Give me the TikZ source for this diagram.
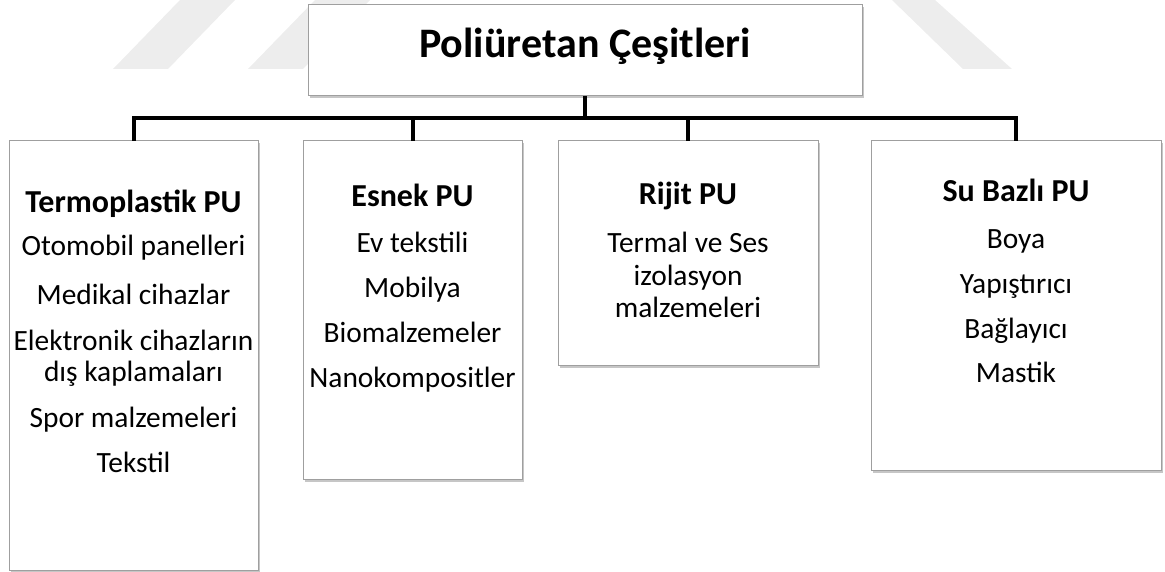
\documentclass[tikz,border=0pt]{standalone}
\usepackage{fontspec}
\setmainfont{Carlito}
\usetikzlibrary{shadows}
\begin{document}
\begin{tikzpicture}[x=1pt,y=-1pt,
  box/.style={draw=gray!75, line width=1pt, fill=white, inner sep=0pt, outer sep=0pt,
    drop shadow={shadow xshift=2pt,shadow yshift=-2.5pt,fill=gray,opacity=.45}},
  link/.style={line width=4pt, line join=miter},
  ttl/.style={anchor=base, inner sep=0pt, font=\fontsize{42}{46}\selectfont\bfseries},
  hdr/.style={anchor=base, inner sep=0pt, font=\fontsize{32}{36}\selectfont\bfseries},
  itm/.style={anchor=base, inner sep=0pt, font=\fontsize{29.4}{32}\selectfont},
  wm/.style={fill=black!7, draw=none}]
\useasboundingbox (0,0) rectangle (1165,572);
% faint watermark bands
\fill[wm] (113,69) -- (180,0) -- (235,0) -- (168,69) -- cycle;
\fill[wm] (248,69) -- (315,0) -- (370,0) -- (303,69) -- cycle;
\fill[wm] (892,0) -- (935,0) -- (1012,69) -- (963,69) -- cycle;
% boxes
\node[box, minimum width=554pt, minimum height=91pt] (title) at (585,50.5) {};
\node[box, minimum width=249pt, minimum height=429pt] (b1) at (133.5,355.5) {};
\node[box, minimum width=219pt, minimum height=338pt] (b2) at (412.5,310) {};
\node[box, minimum width=260pt, minimum height=224pt] (b3) at (688,253) {};
\node[box, minimum width=290pt, minimum height=329pt] (b4) at (1016,305.5) {};
% connectors
\coordinate (j) at (585,118);
\draw[link] (title.south) -- (j);
\draw[link] (b1.north) -- (b1.north |- j) -- (b4.north |- j) -- (b4.north);
\draw[link] (b2.north) -- (b2.north |- j);
\draw[link] (b3.north) -- (b3.north |- j);
% texts
\node[ttl] (tt) at (585,58) {Poliüretan Çeşitleri};
\node[hdr] (h1) at (133.5,213) {Termoplastik PU};
\node[hdr] (h2) at (412.5,207) {Esnek PU};
\node[hdr] (h3) at (688,205) {Rijit PU};
\node[hdr] (h4) at (1016,202) {Su Bazlı PU};
\foreach \yy/\txt [count=\i] in {256/Otomobil panelleri, 304/Medikal cihazlar,
    350/Elektronik cihazların, 381/dış kaplamaları, 427/Spor malzemeleri, 472/Tekstil}
  \node[itm] (a\i) at (133.5,\yy) {\txt};
\foreach \yy/\txt [count=\i] in {253/Ev tekstili, 298/Mobilya, 342/Biomalzemeler, 387/Nanokompositler}
  \node[itm] (e\i) at (412.5,\yy) {\txt};
\foreach \yy/\txt [count=\i] in {253/Termal ve Ses, 285/izolasyon, 317/malzemeleri}
  \node[itm] (r\i) at (688,\yy) {\txt};
\foreach \yy/\txt [count=\i] in {248/Boya, 293/Yapıştırıcı, 338/Bağlayıcı, 382/Mastik}
  \node[itm] (s\i) at (1016,\yy) {\txt};
\end{tikzpicture}
\end{document}
